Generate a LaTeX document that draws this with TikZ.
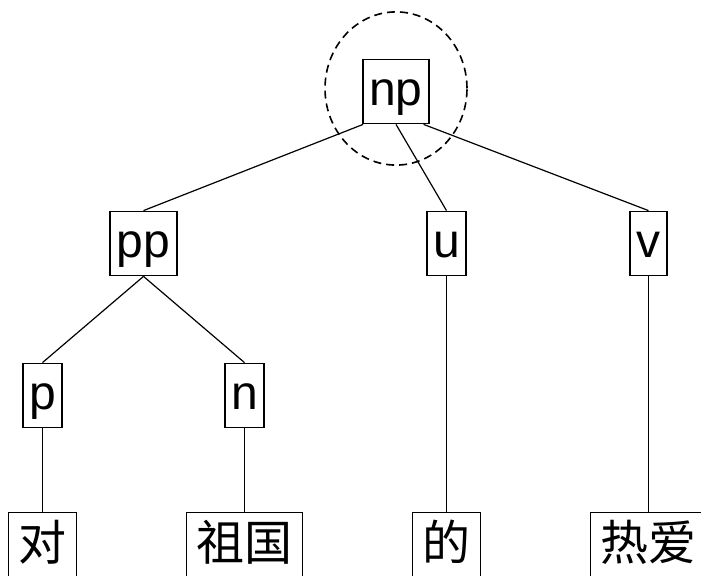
\documentclass[tikz,border=0pt]{standalone}
\usepackage{fontspec}
\setmainfont{Liberation Sans}
\newfontfamily\cjk{Noto Sans CJK SC}

\begin{document}
\begin{tikzpicture}[
 every node/.style={draw,line width=0.9pt,font=\fontsize{24pt}{28pt}\selectfont,
  inner xsep=3.25pt,inner ysep=6pt,minimum height=32pt,text height=17pt,text depth=3pt},
 word/.style={font=\fontsize{24pt}{28pt}\cjk,inner xsep=5pt,inner ysep=5pt,text height=19pt},
 edge from parent/.style={draw,line width=0.6pt},
 fromangle/.style={edge from parent path={(\tikzparentnode.#1) -- (\tikzchildnode.north)}},
 fromangle=south,
 level distance=76pt,sibling distance=50.5pt,
 level 2/.style={fromangle=south},
 level 3/.style={fromangle=south,level distance=74.5pt}]
 \useasboundingbox (0,0) rectangle (350.5pt,-288pt);
 \node (np) at (198pt,-45.75pt) {np}
 child [fromangle=-135] {node (pp) {pp}
  child {node (p) {p}
   child {node[word] (dui) {对}}
  }
  child [missing] {}
  child {node (n) {n}
   child {node[word] (zuguo) {祖国}}
  }
 }
 child [missing] {}
 child [missing] {}
 child {node (u) {u}
  child [level distance=150.5pt] {node[word] (de) {的}}
 }
 child [missing] {}
 child [fromangle=-50] {node (v) {v}
  child [level distance=150.5pt] {node[word] (reai) {热爱}}
 };
 % focus mark round the root
 \draw[line width=0.8pt,dash pattern=on 4pt off 2.5pt] ([yshift=1.5pt]np.center) ellipse [x radius=35.5pt,y radius=38.3pt];
\end{tikzpicture}
\end{document}
